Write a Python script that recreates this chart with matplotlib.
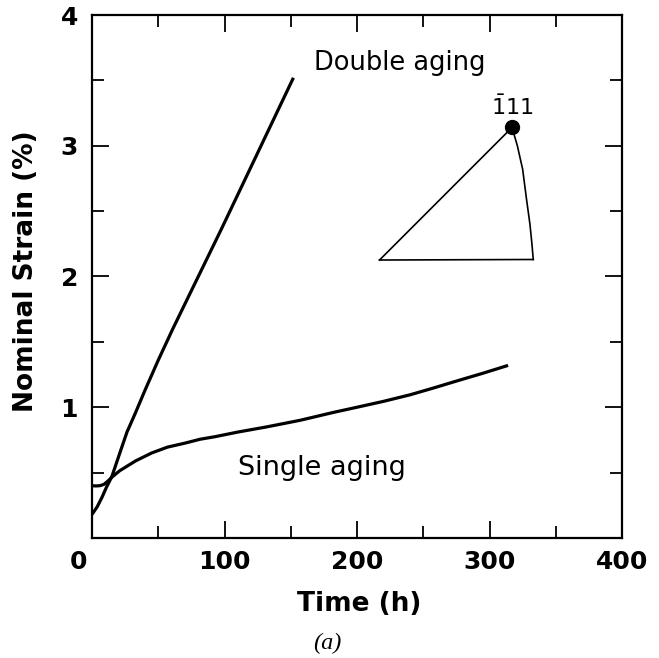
import numpy as np
import matplotlib.pyplot as plt
from matplotlib.ticker import MultipleLocator
from matplotlib.transforms import ScaledTranslation

# curvas de fluencia
t_double = [0, 4, 7.5, 11, 15, 21, 26.4, 32.5, 40, 50, 61, 98, 152]
s_double = [0.18, 0.24, 0.31, 0.39, 0.47, 0.65, 0.81, 0.95, 1.13, 1.36, 1.60, 2.37, 3.52]

t_single = [0, 3, 6, 9, 12, 15, 18, 21, 25, 29, 33, 39, 45, 57, 70, 81.5, 93, 110, 132, 157, 182, 200, 220, 240, 257, 275, 295, 314]
s_single = [0.40, 0.398, 0.40, 0.41, 0.435, 0.465, 0.49, 0.515, 0.54, 0.565, 0.59, 0.62, 0.65, 0.695, 0.725, 0.755, 0.775, 0.81, 0.85, 0.90, 0.96, 1.00, 1.045, 1.095, 1.145, 1.20, 1.26, 1.32]

# triangulo estereografico (coordenadas de datos)
tri_t = [317, 217, 333]
tri_s = [3.14, 2.126, 2.13]
arc_t = [317, 321, 325, 328, 330.5, 332, 333]
arc_s = [3.14, 3.0, 2.82, 2.585, 2.40, 2.25, 2.13]

plt.rcParams['font.family'] = ['DejaVu Sans']

fig = plt.figure(figsize=(6.59, 6.58), dpi=100)
ax = fig.add_axes([0.1396, 0.1824, 0.8043, 0.7948])

ax.plot(t_double, s_double, 'k-', lw=2.3, solid_capstyle='butt')
ax.plot(t_single, s_single, 'k-', lw=2.3, solid_capstyle='butt')

ax.plot([tri_t[1], tri_t[0]], [tri_s[1], tri_s[0]], 'k-', lw=1.2)
ax.plot([tri_t[1], tri_t[2]], [tri_s[1], tri_s[2]], 'k-', lw=1.2)
ax.plot(arc_t, arc_s, 'k-', lw=1.2)
ax.plot(tri_t[0], tri_s[0], 'ko', ms=10)
ax.text(tri_t[0], 3.235, r'$\mathregular{\bar{1}}$11', ha='center', va='baseline', fontsize=16)

ax.text(232, 3.58, 'Double aging', ha='center', va='baseline', fontsize=18.5)
ax.text(173.6, 0.48, 'Single aging', ha='center', va='baseline', fontsize=19.5)

ax.set_xlim(0, 400)
ax.set_ylim(0, 4)
ax.set_xticks([0, 100, 200, 300, 400])
ax.xaxis.set_minor_locator(MultipleLocator(50))
ax.set_yticks([1, 2, 3, 4])
ax.yaxis.set_minor_locator(MultipleLocator(0.5))
ax.tick_params(which='both', direction='in', top=True, right=True, width=1.3)
ax.tick_params(which='major', length=12.5, labelsize=18)
ax.tick_params(axis='x', which='major', pad=9)
ax.tick_params(axis='y', which='major', pad=10)
ax.tick_params(which='minor', length=8.5)
for lab in ax.get_xticklabels() + ax.get_yticklabels():
    lab.set_fontweight('bold')
# el "0" del eje x va corrido a la izquierda
lab0 = ax.get_xticklabels()[0]
lab0.set_transform(lab0.get_transform() + ScaledTranslation(-0.13, 0, fig.dpi_scale_trans))
for sp in ax.spines.values():
    sp.set_linewidth(1.6)

ax.set_xlabel('Time (h)', fontsize=19, fontweight='bold')
ax.xaxis.set_label_coords(0.504, -0.101)
ax.set_ylabel('Nominal Strain (%)', fontsize=19, fontweight='bold')
ax.yaxis.set_label_coords(-0.10, 0.51)
fig.text(0.496, 0.022, '(a)', ha='center', va='center', fontsize=17.5,
         family='Liberation Serif', style='italic')

plt.savefig('out.png', dpi=100)
